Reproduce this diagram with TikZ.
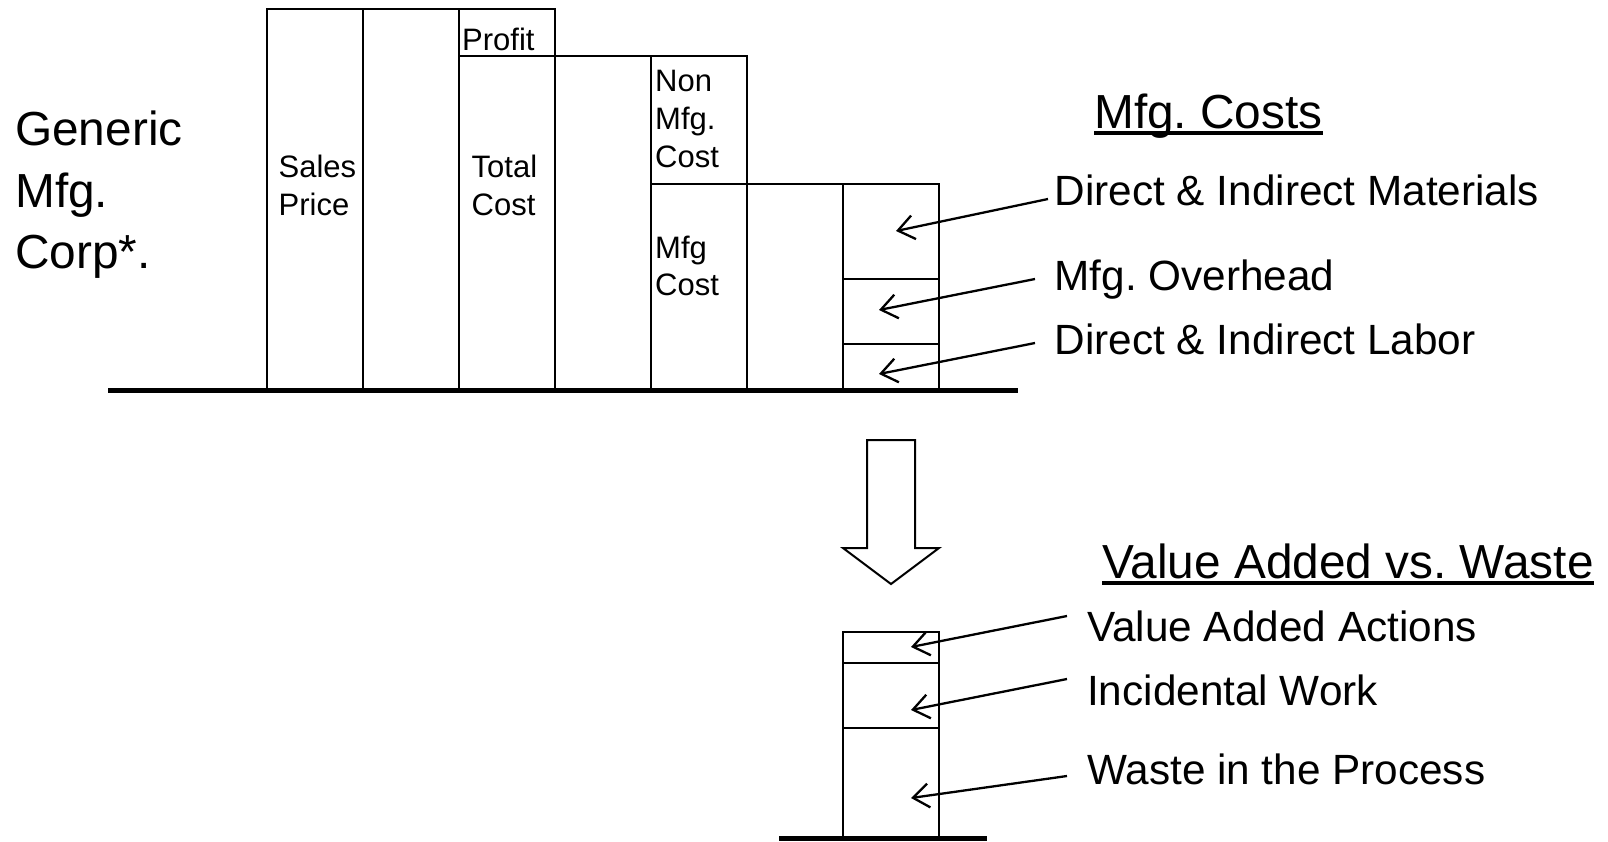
\documentclass[tikz,border=0pt]{standalone}
\usepackage{fontspec}
\setmainfont{Liberation Sans}
\usetikzlibrary{arrows.meta,calc}
\frenchspacing
\tikzset{
  box/.style={draw=black,line width=2pt},
  ground/.style={draw=black,line width=5pt},
  pointer/.style={draw=black,line width=2.3pt,-{Straight Barb[length=16pt,width=24pt,line width=2.3pt]}},
  small/.style={inner sep=0pt,anchor=base west,font=\fontsize{31}{38}\selectfont},
  label/.style={inner sep=0pt,anchor=base west,font=\fontsize{42.3}{50}\selectfont},
  big/.style={inner sep=0pt,anchor=base west,font=\fontsize{47.8}{60}\selectfont},
  ul/.style={draw=black,line width=3.4pt}
}
\begin{document}
\begin{tikzpicture}[x=1pt,y=-1pt]
\useasboundingbox (0,0) rectangle (1608,841);
% upper columns
\draw[box] (267,9) rectangle (363,390);
\draw[box] (363,9) rectangle (459,390);
\draw[box] (459,9) rectangle (555,390);
\draw[box] (459,56) -- (555,56);
\draw[box] (555,56) rectangle (651,390);
\draw[box] (651,56) rectangle (747,390);
\draw[box] (651,184) -- (747,184);
\draw[box] (747,184) rectangle (843,390);
\draw[box] (843,184) rectangle (939,390);
\draw[box] (843,279) -- (939,279);
\draw[box] (843,344) -- (939,344);
\draw[ground] (108,390) -- (1018,390);
% left title
\node[big] (g1) at (15,145) {Generic};
\node[big] (g2) at (15,207) {Mfg.};
\node[big] (g3) at (15,268) {Corp*.};
% column labels
\node[small] (sp1) at (278.5,177) {Sales};
\node[small] (sp2) at (278.5,215) {Price};
\node[small] (pr) at (462,50) {Profit};
\node[small] (tc1) at (471.5,177) {Total};
\node[small] (tc2) at (471.5,215) {Cost};
\node[small] (nm1) at (655,91) {Non};
\node[small] (nm2) at (655,129) {Mfg.};
\node[small] (nm3) at (655,167) {Cost};
\node[small] (mc1) at (655,258) {Mfg};
\node[small] (mc2) at (655,295) {Cost};
% right headings and labels
\node[big] (mch) at (1094,128) {Mfg. Costs};
\draw[ul] ($(mch.base west)+(0,5)$) -- ($(mch.base east)+(0,5)$);
\node[label] (dim) at (1054.5,205) {Direct \& Indirect Materials};
\node[label] (moh) at (1054.5,290) {Mfg. Overhead};
\node[label] (dil) at (1054.5,354.5) {Direct \& Indirect Labor};
\coordinate (s1) at (1048,199);
\coordinate (t1) at (896,231);
\coordinate (s2) at (1035,279);
\coordinate (t2) at (879,310);
\coordinate (s3) at (1035,343);
\coordinate (t3) at (879,374);
\draw[pointer] (s1) -- (t1);
\draw[pointer] (s2) -- (t2);
\draw[pointer] (s3) -- (t3);
% big hollow arrow
\draw[box] (867,440) -- (915,440) -- (915,548) -- (939,548) -- (891,584) -- (843,548) -- (867,548) -- cycle;
% lower stack
\draw[box] (843,632) rectangle (939,838);
\draw[box] (843,663) -- (939,663);
\draw[box] (843,728) -- (939,728);
\draw[ground] (779,838) -- (987,838);
\node[big] (vaw) at (1102,578) {Value Added vs. Waste};
\draw[ul] ($(vaw.base west)+(0,5)$) -- ($(vaw.base east)+(0,5)$);
\node[label] (vaa) at (1087,641) {Value Added Actions};
\node[label] (inw) at (1087,705) {Incidental Work};
\node[label] (wip) at (1087,784) {Waste in the Process};
\coordinate (s4) at (1067,616);
\coordinate (t4) at (911,647);
\coordinate (s5) at (1067,679);
\coordinate (t5) at (911,710);
\coordinate (s6) at (1067,776);
\coordinate (t6) at (911,798);
\draw[pointer] (s4) -- (t4);
\draw[pointer] (s5) -- (t5);
\draw[pointer] (s6) -- (t6);
\end{tikzpicture}
\end{document}
